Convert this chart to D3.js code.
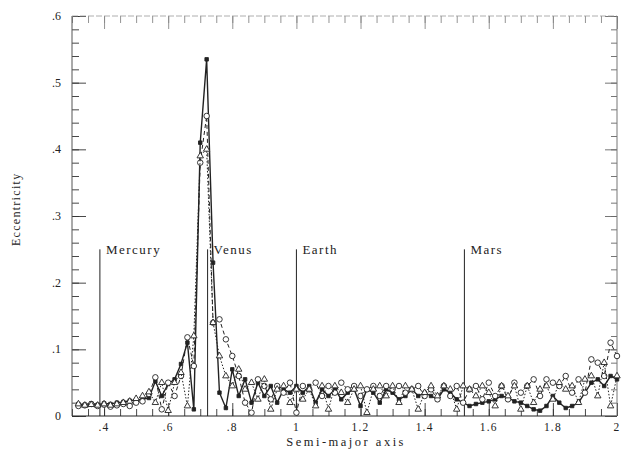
<!DOCTYPE html>
<html>
<head>
<meta charset="utf-8">
<title>Eccentricity vs semi-major axis</title>
<script src="https://d3js.org/d3.v7.min.js"></script>
<style>
  body { margin: 0; background: #fff; }
  text { font-family: 'Liberation Serif', 'DejaVu Serif', serif; fill: #222; }
</style>
</head>
<body>
<div id="chart"></div>
<script>
// semi-major axis grid (AU)
var semiMajor = [0.32,0.34,0.36,0.38,0.40,0.42,0.44,0.46,0.48,0.50,0.52,0.54,
  0.56,0.58,0.60,0.62,0.64,0.66,0.68,0.70,0.72,0.74,0.76,0.78,0.80,
  0.82,0.84,0.86,0.88,0.90,0.92,0.94,0.96,0.98,1.00,
  1.02,1.04,1.06,1.08,1.10,1.12,1.14,1.16,1.18,1.20,1.22,1.24,1.26,1.28,1.30,
  1.32,1.34,1.36,1.38,1.40,1.42,1.44,1.46,1.48,1.50,1.52,1.54,1.56,1.58,1.60,
  1.62,1.64,1.66,1.68,1.70,1.72,1.74,1.76,1.78,1.80,1.82,1.84,1.86,1.88,1.90,
  1.92,1.94,1.96,1.98,2.00];

// eccentricities, one array per run
var eccSolid = [0.018,0.017,0.019,0.017,0.019,0.018,0.020,0.021,0.023,0.024,0.025,0.027,
  0.052,0.030,0.048,0.055,0.078,0.110,0.010,0.410,0.535,0.230,0.035,0.012,0.070,
  0.030,0.055,0.020,0.050,0.030,0.045,0.020,0.040,0.035,0.045,
  0.035,0.045,0.020,0.040,0.030,0.040,0.025,0.035,0.040,0.015,0.040,0.035,0.020,0.040,0.035,
  0.025,0.030,0.040,0.030,0.035,0.030,0.025,0.040,0.035,0.025,0.020,0.015,0.018,0.020,0.022,
  0.025,0.030,0.028,0.022,0.020,0.015,0.010,0.008,0.015,0.030,0.020,0.012,0.015,0.020,0.035,
  0.050,0.055,0.045,0.060,0.055];

var eccDashed = [0.015,0.016,0.018,0.015,0.017,0.014,0.016,0.018,0.015,0.020,0.022,0.033,
  0.058,0.010,0.050,0.030,0.060,0.118,0.075,0.380,0.450,0.140,0.145,0.115,0.090,
  0.060,0.020,0.005,0.055,0.045,0.025,0.045,0.035,0.050,0.005,
  0.045,0.040,0.050,0.030,0.045,0.035,0.050,0.040,0.045,0.030,0.040,0.045,0.030,0.045,0.040,
  0.045,0.035,0.040,0.045,0.030,0.040,0.025,0.045,0.030,0.045,0.020,0.040,0.045,0.025,0.050,
  0.030,0.045,0.025,0.050,0.035,0.045,0.055,0.030,0.055,0.050,0.045,0.060,0.035,0.055,0.035,
  0.085,0.080,0.060,0.110,0.090];

var eccDotted = [0.018,0.016,0.017,0.016,0.018,0.016,0.018,0.020,0.022,0.026,0.030,0.036,
  0.020,0.050,0.008,0.050,0.065,0.015,0.120,0.390,0.400,0.140,0.090,0.060,0.045,
  0.070,0.040,0.050,0.025,0.055,0.010,0.040,0.045,0.020,0.040,
  0.025,0.040,0.015,0.045,0.010,0.045,0.035,0.020,0.040,0.045,0.005,0.040,0.045,0.030,0.045,
  0.020,0.045,0.040,0.010,0.035,0.045,0.030,0.045,0.040,0.010,0.045,0.040,0.030,0.045,0.035,
  0.015,0.045,0.030,0.045,0.010,0.045,0.020,0.040,0.045,0.025,0.050,0.040,0.045,0.020,0.055,
  0.060,0.030,0.080,0.015,0.060];

var planetNames = ["Mercury", "Venus", "Earth", "Mars"];
var planetA = [0.387, 0.723, 1.0, 1.524];

var xTicks = [0.4, 0.6, 0.8, 1, 1.2, 1.4, 1.6, 1.8, 2];
var yTicks = [0, 0.1, 0.2, 0.3, 0.4, 0.5, 0.6];

var margin = {top: 16, right: 11, bottom: 33, left: 72},
    width = 628 - margin.left - margin.right,
    height = 449 - margin.top - margin.bottom;

var svg = d3.select("#chart").append("svg")
    .attr("width", 628).attr("height", 449)
  .append("g")
    .attr("transform", "translate(" + margin.left + "," + margin.top + ")");

var x = d3.scaleLinear().domain([0.3, 2]).range([0, width]);
var y = d3.scaleLinear().domain([0, 0.6]).range([height, 0]);

function fmt(d) {
  if (d === 0) return "0";
  return d3.format("~g")(d).replace(/^0\./, ".");
}

// minor + major ticks, all pointing inward
var xMinor = d3.range(0.3, 2.001, 0.05);
var yMinor = d3.range(0, 0.601, 0.02);

function addAxis(axis, tickVals, size, cls, transform) {
  var g = svg.append("g").attr("class", cls).attr("transform", transform)
    .call(axis.tickValues(tickVals).tickSize(size).tickSizeOuter(0).tickFormat(""));
  g.select(".domain").remove();
  g.selectAll(".tick line").attr("stroke", "#333").attr("stroke-width", 0.9);
  return g;
}

addAxis(d3.axisTop(x), xMinor, 7, "xminor", "translate(0," + height + ")");
addAxis(d3.axisTop(x), xTicks, 13, "xmajor", "translate(0," + height + ")");
addAxis(d3.axisRight(y), yMinor, 7, "yminor", "translate(0,0)");
addAxis(d3.axisRight(y), yTicks, 14, "ymajor", "translate(0,0)");
addAxis(d3.axisBottom(x), xMinor, 7, "xtopminor", "translate(0,0)")
  .selectAll(".tick line").attr("stroke", "#888");
addAxis(d3.axisBottom(x), xTicks, 13, "xtopmajor", "translate(0,0)")
  .selectAll(".tick line").attr("stroke", "#888");
addAxis(d3.axisLeft(y), yMinor, 6, "yrminor", "translate(" + width + ",0)")
  .selectAll(".tick line").attr("stroke", "#666");
addAxis(d3.axisLeft(y), yTicks, 12, "yrmajor", "translate(" + width + ",0)")
  .selectAll(".tick line").attr("stroke", "#666");

// tick labels
svg.selectAll(".xlab").data(xTicks).enter().append("text")
  .attr("x", function(d) { return x(d); })
  .attr("y", height + 15)
  .attr("text-anchor", "middle")
  .style("font-size", "11.5px").style("letter-spacing", "1.2px")
  .text(fmt);

svg.selectAll(".ylab").data(yTicks).enter().append("text")
  .attr("x", -11)
  .attr("y", function(d) { return y(d) + 4; })
  .attr("text-anchor", "end")
  .style("font-size", "12px")
  .text(fmt);

// frame
svg.append("line").attr("x1", 0).attr("x2", width).attr("y1", height).attr("y2", height)
  .attr("stroke", "#222").attr("stroke-width", 1.2);
svg.append("line").attr("x1", 0).attr("x2", 0).attr("y1", 0).attr("y2", height)
  .attr("stroke", "#555").attr("stroke-width", 1);
svg.append("line").attr("x1", 0).attr("x2", width).attr("y1", 0).attr("y2", 0)
  .attr("stroke", "#999").attr("stroke-width", 0.8).attr("stroke-dasharray", "6,2");
svg.append("line").attr("x1", width).attr("x2", width).attr("y1", 0).attr("y2", height)
  .attr("stroke", "#777").attr("stroke-width", 1);

// axis titles
svg.append("text")
  .attr("x", x(1.155)).attr("y", height + 30)
  .attr("text-anchor", "middle")
  .style("font-size", "12.5px").style("letter-spacing", "2.5px")
  .text("Semi-major axis");

svg.append("text")
  .attr("transform", "translate(-52," + y(0.31) + ") rotate(-90)")
  .attr("text-anchor", "middle")
  .style("font-size", "12px").style("letter-spacing", "1.3px")
  .text("Eccentricity");

// planet markers
planetA.forEach(function(a, i) {
  svg.append("line")
    .attr("x1", x(a)).attr("x2", x(a))
    .attr("y1", y(0)).attr("y2", y(0.25))
    .attr("stroke", "#222").attr("stroke-width", 1);
  svg.append("text")
    .attr("x", x(a) + 6).attr("y", y(0.25) + 5)
    .style("font-size", "13px").style("letter-spacing", "1.5px")
    .text(planetNames[i]);
});

// runs
var line = d3.line()
  .x(function(d) { return x(d[0]); })
  .y(function(d) { return y(d[1]); });

var series = [
  {values: eccSolid, dash: null, width: 1.4, marker: d3.symbolSquare, size: 12, fill: "#222"},
  {values: eccDashed, dash: "4,3", width: 1, marker: d3.symbolCircle, size: 24, fill: "#fff"},
  {values: eccDotted, dash: "1.5,1.8", width: 1, marker: d3.symbolTriangle, size: 18, fill: "#fff"}
];

series.forEach(function(s) {
  var pts = semiMajor.map(function(a, i) { return [a, s.values[i]]; });
  svg.append("path")
    .datum(pts)
    .attr("d", line)
    .attr("fill", "none")
    .attr("stroke", "#222")
    .attr("stroke-width", s.width)
    .attr("stroke-dasharray", s.dash);
  svg.selectAll(null).data(pts).enter().append("path")
    .attr("transform", function(d) { return "translate(" + x(d[0]) + "," + y(d[1]) + ")"; })
    .attr("d", d3.symbol().type(s.marker).size(s.size))
    .attr("fill", s.fill)
    .attr("stroke", "#222")
    .attr("stroke-width", 0.9);
});
</script>
</body>
</html>
